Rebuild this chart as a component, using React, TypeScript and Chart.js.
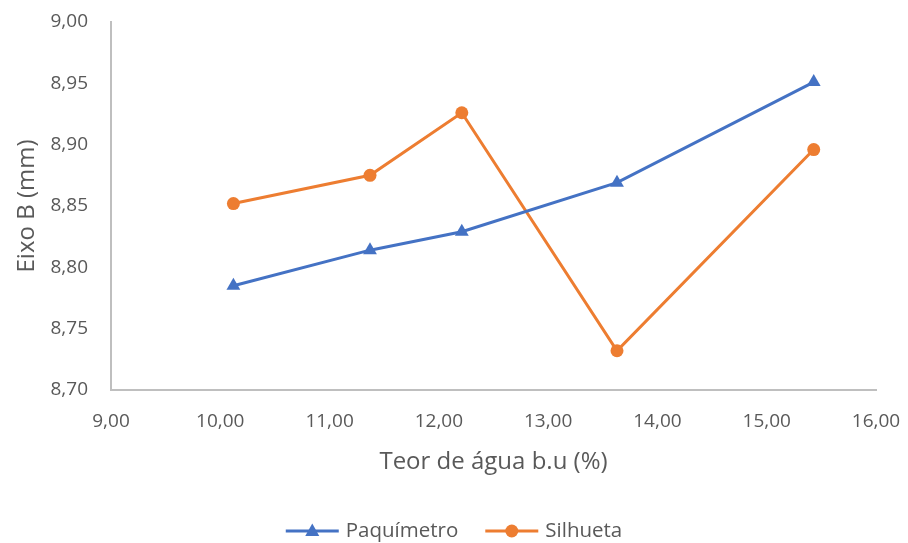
import React, { useEffect, useRef } from "react";
import { Chart, registerables } from "chart.js";

Chart.register(...registerables);

// Moisture content (wet basis, %) for each sample
const teorPaquimetro = [10.12, 11.37, 12.21, 13.63, 15.43];
const teorSilhueta = [10.12, 11.37, 12.21, 13.63, 15.43];

// Axis B measured with the caliper and with the silhouette method (mm)
const eixoPaquimetro = [8.785, 8.814, 8.829, 8.869, 8.951];
const eixoSilhueta = [8.852, 8.875, 8.926, 8.732, 8.896];

const seriesNames = ["Paquímetro", "Silhueta"];
const seriesColors = ["#4472C4", "#ED7D31"];

const xTitle = "Teor de água b.u (%)";
const yTitle = "Eixo B (mm)";

const FONT = "'Open Sans', 'Noto Sans', sans-serif";
const TEXT_COLOR = "#595959";
const AXIS_COLOR = "#BFBFBF";

const fmt = (v: number) => v.toFixed(2).replace(".", ",");

// Legend drawn as line + marker + label, centred under the chart
const lineLegend = {
  id: "lineLegend",
  afterDraw(chart: any) {
    const { ctx, width } = chart;
    const y = 531;
    const lineW = 53;
    const gap = 7;
    const itemGap = 27;
    ctx.save();
    ctx.font = `20.5px ${FONT}`;
    const widths = seriesNames.map((n) => lineW + gap + ctx.measureText(n).width);
    const total = widths.reduce((a, b) => a + b, 0) + itemGap * (widths.length - 1);
    let x = (width - total) / 2;
    seriesNames.forEach((name, i) => {
      const c = seriesColors[i];
      ctx.strokeStyle = c;
      ctx.lineWidth = 3;
      ctx.beginPath();
      ctx.moveTo(x, y);
      ctx.lineTo(x + lineW, y);
      ctx.stroke();
      ctx.fillStyle = c;
      const cx = x + lineW / 2;
      ctx.beginPath();
      if (i === 0) {
        ctx.moveTo(cx, y - 7.5);
        ctx.lineTo(cx + 7, y + 5);
        ctx.lineTo(cx - 7, y + 5);
        ctx.closePath();
      } else {
        ctx.arc(cx, y, 6.5, 0, Math.PI * 2);
      }
      ctx.fill();
      ctx.fillStyle = TEXT_COLOR;
      ctx.textBaseline = "middle";
      ctx.textAlign = "left";
      ctx.fillText(name, x + lineW + gap, y);
      x += widths[i] + itemGap;
    });
    ctx.restore();
  },
};

export default function App() {
  const canvasRef = useRef<HTMLCanvasElement | null>(null);

  useEffect(() => {
    if (!canvasRef.current) return;
    const chart = new Chart(canvasRef.current, {
      type: "line",
      data: {
        datasets: [
          {
            label: seriesNames[0],
            data: teorPaquimetro.map((x, i) => ({ x, y: eixoPaquimetro[i] })),
            borderColor: seriesColors[0],
            backgroundColor: seriesColors[0],
            borderWidth: 3,
            pointStyle: "triangle",
            pointRadius: 8,
            pointBorderWidth: 0,
            tension: 0,
          },
          {
            label: seriesNames[1],
            data: teorSilhueta.map((x, i) => ({ x, y: eixoSilhueta[i] })),
            borderColor: seriesColors[1],
            backgroundColor: seriesColors[1],
            borderWidth: 3,
            pointStyle: "circle",
            pointRadius: 6.5,
            pointBorderWidth: 0,
            tension: 0,
          },
        ],
      },
      options: {
        responsive: false,
        animation: false,
        layout: { padding: { left: 0, right: 32, top: 22, bottom: 0 } },
        plugins: {
          legend: { display: false },
          tooltip: { enabled: false },
        },
        scales: {
          x: {
            type: "linear",
            min: 9,
            max: 16,
            afterFit: (s: any) => {
              s.height = 153;
              s.paddingLeft = 0;
              s.paddingRight = 0;
            },
            ticks: {
              stepSize: 1,
              padding: 20,
              color: TEXT_COLOR,
              font: { family: FONT, size: 19 },
              callback: (v: any) => fmt(Number(v)),
              maxRotation: 0,
            },
            grid: { display: true, drawOnChartArea: false, drawTicks: false },
            border: { color: AXIS_COLOR, width: 2 },
            title: {
              display: true,
              text: xTitle,
              color: TEXT_COLOR,
              font: { family: FONT, size: 24 },
              padding: { top: 0, bottom: 66 },
            },
          },
          y: {
            type: "linear",
            min: 8.7,
            max: 9.0,
            afterFit: (s: any) => {
              s.width = 111;
              s.paddingTop = 0;
              s.paddingBottom = 0;
            },
            ticks: {
              stepSize: 0.05,
              padding: 23,
              color: TEXT_COLOR,
              font: { family: FONT, size: 19 },
              callback: (v: any) => fmt(Number(v)),
            },
            grid: { display: true, drawOnChartArea: false, drawTicks: false },
            border: { color: AXIS_COLOR, width: 2 },
            title: {
              display: true,
              text: yTitle,
              color: TEXT_COLOR,
              font: { family: FONT, size: 24 },
              padding: { top: 13, bottom: 0 },
            },
          },
        },
      },
      plugins: [lineLegend],
    });
    return () => chart.destroy();
  }, []);

  return (
    <div style={{ position: "fixed", left: 0, top: 0, width: 908, height: 543, background: "#fff" }}>
      <canvas ref={canvasRef} width={908} height={543} />
    </div>
  );
}
